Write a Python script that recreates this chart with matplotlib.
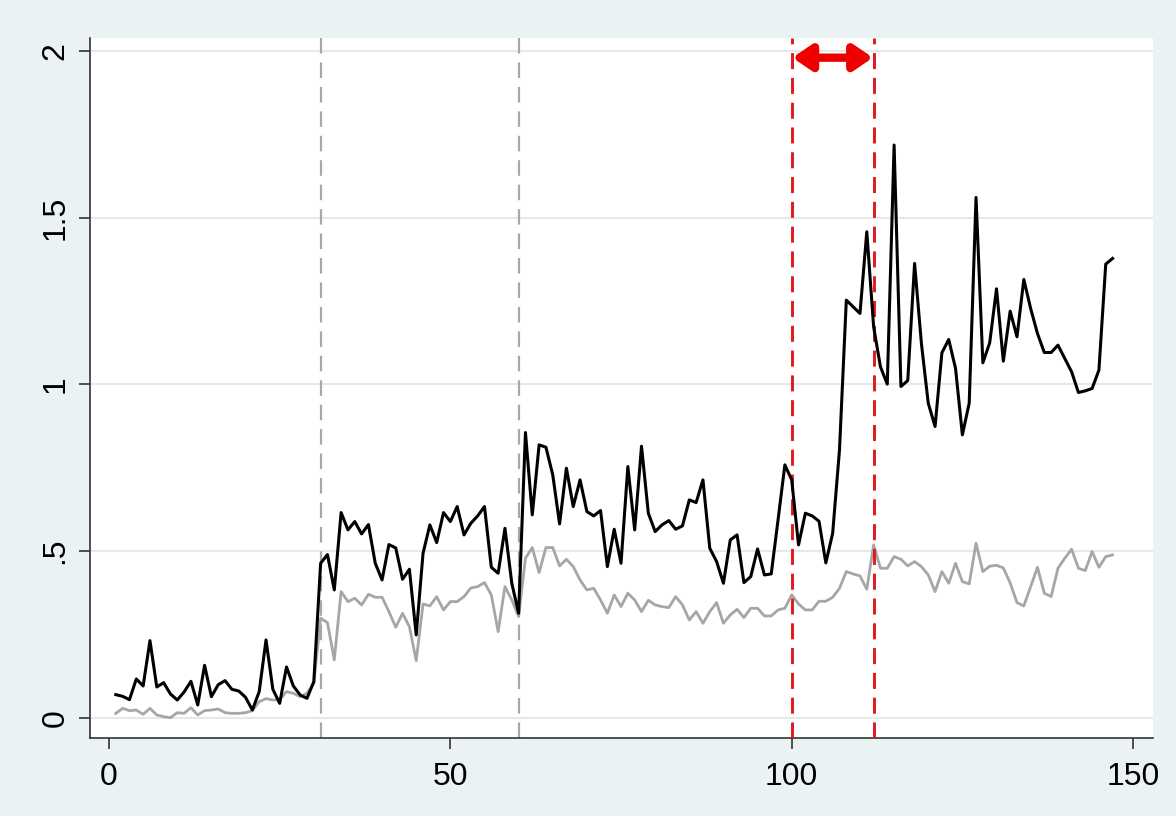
import numpy as np
import matplotlib
matplotlib.use("Agg")
import matplotlib.pyplot as plt

# values, one per period (1..147)
periods = list(range(1, 148))

black_series = [
    0.070, 0.065, 0.055, 0.117, 0.096, 0.232, 0.093, 0.106, 0.072, 0.054,
    0.078, 0.110, 0.039, 0.158, 0.064, 0.100, 0.112, 0.086, 0.081, 0.062,
    0.024, 0.079, 0.234, 0.086, 0.044, 0.153, 0.096, 0.069, 0.059, 0.109,
    0.464, 0.490, 0.384, 0.616, 0.564, 0.589, 0.552, 0.580, 0.464, 0.414,
    0.520, 0.510, 0.416, 0.446, 0.249, 0.494, 0.579, 0.526, 0.616, 0.589,
    0.634, 0.549, 0.584, 0.606, 0.634, 0.452, 0.434, 0.569, 0.404, 0.314,
    0.856, 0.609, 0.819, 0.812, 0.729, 0.582, 0.749, 0.634, 0.714, 0.619,
    0.606, 0.622, 0.454, 0.566, 0.464, 0.754, 0.564, 0.815, 0.614, 0.559,
    0.579, 0.592, 0.566, 0.576, 0.654, 0.646, 0.714, 0.509, 0.469, 0.404,
    0.534, 0.549, 0.406, 0.424, 0.507, 0.429, 0.432, 0.594, 0.759, 0.714,
    0.519, 0.614, 0.606, 0.590, 0.465, 0.554, 0.804, 1.253, 1.233, 1.213,
    1.458, 1.173, 1.053, 1.001, 1.718, 0.994, 1.012, 1.363, 1.123, 0.944,
    0.874, 1.095, 1.135, 1.048, 0.849, 0.944, 1.561, 1.065, 1.125, 1.287,
    1.070, 1.220, 1.143, 1.315, 1.228, 1.153, 1.096, 1.096, 1.118, 1.078,
    1.038, 0.976, 0.981, 0.988, 1.043, 1.361, 1.378,
]

gray_series = [
    0.014, 0.029, 0.022, 0.024, 0.011, 0.029, 0.009, 0.004, 0.001, 0.016,
    0.014, 0.031, 0.009, 0.022, 0.024, 0.027, 0.016, 0.014, 0.014, 0.016,
    0.022, 0.049, 0.058, 0.054, 0.055, 0.079, 0.074, 0.064, 0.074, 0.104,
    0.299, 0.286, 0.174, 0.379, 0.349, 0.359, 0.339, 0.371, 0.362, 0.362,
    0.319, 0.272, 0.314, 0.274, 0.172, 0.342, 0.336, 0.364, 0.324, 0.349,
    0.349, 0.364, 0.390, 0.394, 0.406, 0.369, 0.259, 0.394, 0.354, 0.304,
    0.479, 0.511, 0.436, 0.511, 0.511, 0.456, 0.476, 0.454, 0.414, 0.384,
    0.389, 0.354, 0.314, 0.369, 0.334, 0.374, 0.354, 0.319, 0.353, 0.339,
    0.334, 0.331, 0.364, 0.339, 0.294, 0.319, 0.284, 0.319, 0.346, 0.284,
    0.309, 0.326, 0.301, 0.329, 0.329, 0.306, 0.306, 0.324, 0.329, 0.369,
    0.342, 0.324, 0.324, 0.350, 0.350, 0.362, 0.389, 0.439, 0.432, 0.426,
    0.386, 0.519, 0.449, 0.449, 0.484, 0.476, 0.456, 0.469, 0.454, 0.429,
    0.379, 0.439, 0.404, 0.464, 0.409, 0.402, 0.524, 0.439, 0.455, 0.458,
    0.450, 0.405, 0.346, 0.336, 0.394, 0.452, 0.374, 0.364, 0.449, 0.479,
    0.506, 0.449, 0.442, 0.499, 0.452, 0.484, 0.489,
]

gray_breaks = [31, 60]
red_breaks = [100, 112]
arrow_y = 1.98

x_ticks = [0, 50, 100, 150]
y_ticks = [0, 0.5, 1, 1.5, 2]
y_ticklabels = ["0", ".5", "1", "1.5", "2"]

plt.rcParams['font.family'] = ['Liberation Sans Narrow', 'Liberation Sans', 'DejaVu Sans']

bg = "#eaf2f3"
fig = plt.figure(figsize=(11.76, 8.16), dpi=100, facecolor=bg)
ax = fig.add_axes([90/1176, 1 - 738/816, (1153-90)/1176, (738-38)/816])
ax.set_facecolor("white")

for y in y_ticks:
    ax.axhline(y, color="#e4eaec", lw=1.5, zorder=0)

for xb in gray_breaks:
    ax.axvline(xb, color="#a8a8a8", lw=1.6, dashes=(7, 4), zorder=1)
for xb in red_breaks:
    ax.axvline(xb, color="#e01a1a", lw=2.1, dashes=(5.5, 3), zorder=3)

ax.plot(periods, gray_series, color="#a6a6a6", lw=2.0, zorder=2)
ax.plot(periods, black_series, color="black", lw=2.2, zorder=4)

# double arrow marking the window between the red lines
ax.annotate("", xy=(red_breaks[1] - 0.1, arrow_y), xytext=(red_breaks[0] + 0.1, arrow_y),
            arrowprops=dict(arrowstyle="<|-|>,head_length=1.1,head_width=0.75",
                            color="#ee0000", lw=6, shrinkA=0, shrinkB=0),
            zorder=5)

ax.set_xlim((90 - 109) / 6.827, (1153 - 109) / 6.827)
ax.set_ylim((718 - 738) / 333.5, (718 - 38) / 333.5)

ax.set_xticks(x_ticks)
ax.set_yticks(y_ticks)
ax.set_yticklabels(y_ticklabels, rotation=90, va="center")
ax.tick_params(direction="out", length=8, width=1.2, color="#333333",
               labelsize=23, pad=6)
ax.tick_params(axis="x", pad=9)

for s in ["top", "right"]:
    ax.spines[s].set_visible(False)
for s in ["left", "bottom"]:
    ax.spines[s].set_color("#333333")
    ax.spines[s].set_linewidth(1.2)

fig.savefig("out.png", dpi=100, facecolor=bg)
